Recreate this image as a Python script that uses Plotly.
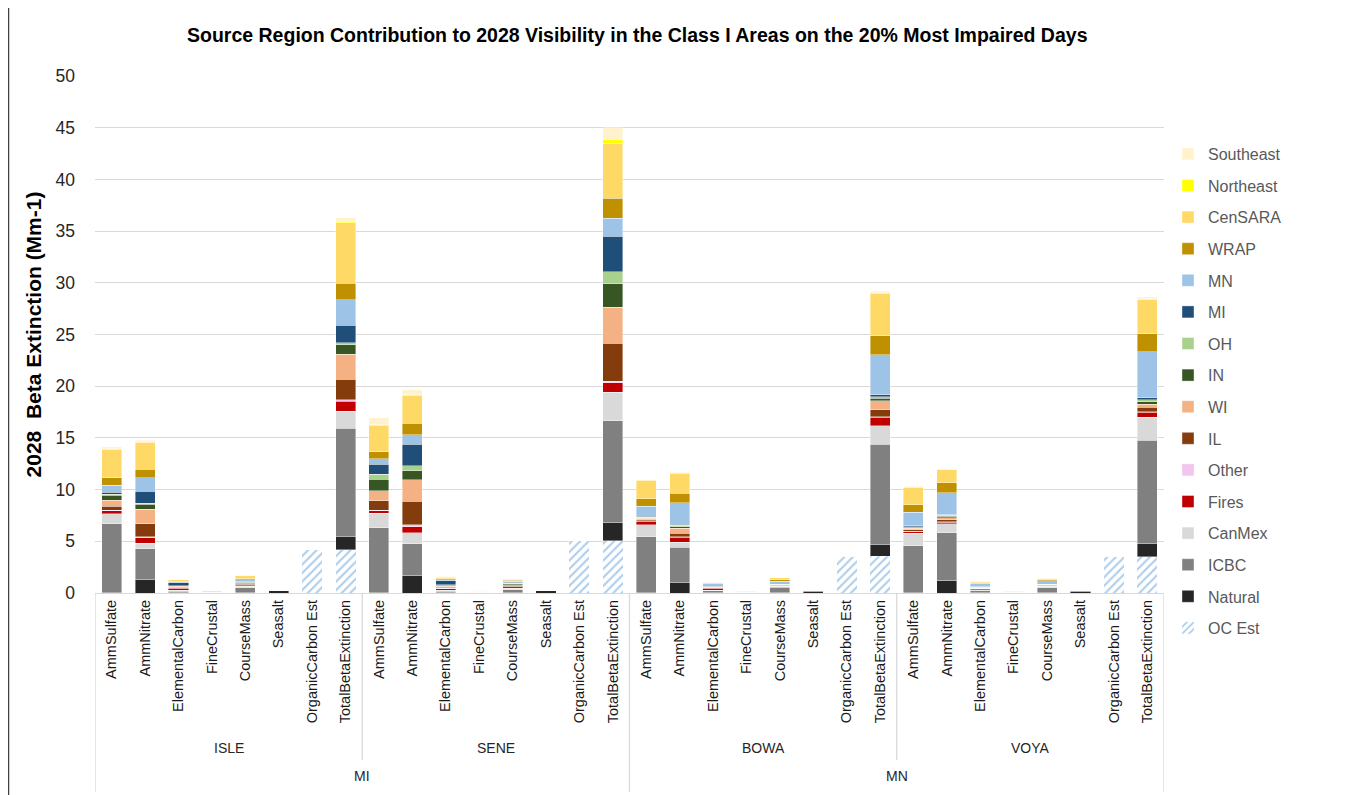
import plotly.graph_objects as go

# ---------------- data ----------------
states = ["MI", "MN"]
sites = ["ISLE", "SENE", "BOWA", "VOYA"]
species = ["AmmSulfate", "AmmNitrate", "ElementalCarbon", "FineCrustal",
           "CourseMass", "Seasalt", "OrganicCarbon Est", "TotalBetaExtinction"]

# each list: ISLE(8) + SENE(8) + BOWA(8) + VOYA(8), species order as above
oc_est = [0, 0, 0, 0, 0, 0, 4.16, 4.16,
          0, 0, 0, 0, 0, 0, 5.06, 5.06,
          0, 0, 0, 0, 0, 0, 3.55, 3.55,
          0, 0, 0, 0, 0, 0, 3.52, 3.52]
natural = [0.05, 1.29, 0.02, 0, 0.02, 0.20, 0, 1.32,
           0.05, 1.68, 0.02, 0, 0.02, 0.20, 0, 1.74,
           0.05, 1.03, 0.02, 0, 0.02, 0.15, 0, 1.16,
           0.05, 1.19, 0.02, 0, 0.02, 0.17, 0, 1.23]
icbc = [6.63, 2.97, 0.15, 0.05, 0.50, 0.05, 0, 10.45,
        6.24, 3.06, 0.15, 0.03, 0.30, 0.05, 0, 9.87,
        5.40, 3.39, 0.20, 0.04, 0.55, 0.05, 0, 9.68,
        4.53, 4.65, 0.20, 0.04, 0.50, 0.05, 0, 10.00]
canmex = [0.97, 0.55, 0.08, 0.02, 0.12, 0, 0, 1.65,
          1.42, 1.10, 0.10, 0.02, 0.10, 0, 0, 2.74,
          1.13, 0.48, 0.05, 0.02, 0.10, 0, 0, 1.77,
          1.19, 0.84, 0.08, 0.02, 0.12, 0, 0, 2.26]
fires = [0.30, 0.52, 0.22, 0, 0.05, 0, 0, 0.97,
         0.26, 0.58, 0.15, 0, 0.03, 0, 0, 0.90,
         0.35, 0.48, 0.20, 0, 0.03, 0, 0, 0.84,
         0.19, 0.16, 0.12, 0, 0.05, 0, 0, 0.45]
other = [0.05, 0.13, 0.03, 0, 0.01, 0, 0, 0.16,
         0.05, 0.19, 0.05, 0, 0.01, 0, 0, 0.19,
         0.05, 0.06, 0.02, 0, 0.01, 0, 0, 0.06,
         0.03, 0.05, 0.02, 0, 0.01, 0, 0, 0.05]
il = [0.40, 1.23, 0.08, 0, 0.15, 0, 0, 1.97,
      0.90, 2.26, 0.10, 0.03, 0.20, 0, 0, 3.65,
      0.12, 0.35, 0.04, 0, 0.05, 0, 0, 0.65,
      0.15, 0.20, 0.04, 0, 0.05, 0, 0, 0.45]
wi = [0.58, 1.39, 0.06, 0, 0.15, 0, 0, 2.39,
      0.97, 2.06, 0.10, 0.10, 0.15, 0, 0, 3.48,
      0.12, 0.48, 0.05, 0, 0.05, 0, 0, 0.90,
      0.12, 0.20, 0.04, 0, 0.05, 0, 0, 0.30]
ind = [0.45, 0.48, 0.06, 0, 0.06, 0, 0, 0.94,
       1.13, 0.90, 0.10, 0, 0.10, 0, 0, 2.29,
       0.08, 0.15, 0.02, 0, 0.02, 0, 0, 0.23,
       0.10, 0.12, 0.02, 0, 0.03, 0, 0, 0.26]
oh = [0.12, 0.13, 0.02, 0, 0.02, 0, 0, 0.19,
      0.48, 0.48, 0.05, 0, 0.05, 0, 0, 1.16,
      0.05, 0.15, 0.02, 0, 0.02, 0, 0, 0.16,
      0.06, 0.10, 0.02, 0, 0.02, 0, 0, 0.19]
mi = [0.20, 1.16, 0.25, 0, 0.08, 0, 0, 1.71,
      0.97, 2.06, 0.35, 0, 0.10, 0, 0, 3.42,
      0.06, 0.10, 0.05, 0, 0.02, 0, 0, 0.16,
      0.10, 0.06, 0.04, 0, 0.02, 0, 0, 0.16]
mn = [0.68, 1.29, 0.12, 0.05, 0.12, 0, 0, 2.45,
      0.52, 0.94, 0.10, 0, 0.08, 0, 0, 1.74,
      0.97, 2.06, 0.25, 0.08, 0.25, 0, 0, 3.90,
      1.29, 2.13, 0.35, 0.09, 0.30, 0, 0, 4.45]
wrap = [0.71, 0.84, 0.06, 0.03, 0.12, 0, 0, 1.61,
        0.65, 1.10, 0.10, 0, 0.10, 0, 0, 1.94,
        0.74, 0.94, 0.05, 0, 0.15, 0, 0, 1.84,
        0.74, 0.94, 0.05, 0, 0.12, 0, 0, 1.77]
censara = [2.74, 2.58, 0.12, 0.05, 0.25, 0, 0, 5.84,
           2.52, 2.65, 0.15, 0.07, 0.10, 0, 0, 5.30,
           1.77, 1.87, 0.08, 0.05, 0.20, 0, 0, 4.03,
           1.68, 1.29, 0.10, 0.05, 0.15, 0, 0, 3.32]
northeast = [0.05, 0.10, 0.01, 0, 0.02, 0, 0, 0.13,
             0.13, 0.13, 0.05, 0.02, 0.02, 0, 0, 0.40,
             0.05, 0.10, 0.01, 0.02, 0.01, 0, 0, 0.13,
             0.03, 0.05, 0.01, 0.01, 0.01, 0, 0, 0.06]
southeast = [0.20, 0.10, 0.02, 0, 0.04, 0, 0, 0.35,
             0.68, 0.45, 0.04, 0, 0.03, 0, 0, 1.10,
             0.02, 0.03, 0.01, 0, 0.01, 0, 0, 0.13,
             0.07, 0.02, 0.01, 0, 0.01, 0, 0, 0.16]

series_names = ["Natural", "ICBC", "CanMex", "Fires", "Other", "IL", "WI", "IN",
                "OH", "MI", "MN", "WRAP", "CenSARA", "Northeast", "Southeast"]
series_values = [natural, icbc, canmex, fires, other, il, wi, ind,
                 oh, mi, mn, wrap, censara, northeast, southeast]
series_colors = ["#262626", "#808080", "#D9D9D9", "#C00000", "#F2C4EE", "#843C0C",
                 "#F4B183", "#375623", "#A9D18E", "#1F4E79", "#9DC3E6", "#BF9000",
                 "#FFD966", "#FFFF00", "#FFF2CC"]

# ---------------- figure ----------------
n_species = len(species)
xs = list(range(len(sites) * n_species))
ticktext = species * len(sites)

FONT = "Liberation Sans Narrow, Liberation Sans, Arial, sans-serif"

# page has an 8px body margin: figure is drawn at (8, 8)
W, H = 1346, 787
ML, MT, MR, MB = 87, 68, 190, 202
PW = W - ML - MR
PH = H - MT - MB


def px_to_paper_x(page_x):
    return (page_x - 8 - ML) / PW


def px_to_paper_y(page_y):
    return (8 + MT + PH - page_y) / PH


fig = go.Figure()
fig.add_trace(go.Bar(
    x=xs, y=oc_est, name="OC Est", width=0.6, legendgroup="OC Est",
    legendrank=1000,
    marker=dict(color="white", line=dict(width=0),
                pattern=dict(shape="/", fgcolor="#5B9BD5", bgcolor="white",
                             size=6, solidity=0.35)),
    hoverinfo="skip"))
for i, (name, vals, col) in enumerate(zip(series_names, series_values, series_colors)):
    fig.add_trace(go.Bar(
        x=xs, y=vals, name=name, width=0.6, legendgroup=name,
        legendrank=999 - i,
        marker=dict(color=col, line=dict(color="white", width=0.4)),
        hoverinfo="skip"))

shapes = []
line_col = "#D9D9D9"
for k in range(1, len(sites)):
    xb = k * n_species - 0.5
    y_end = px_to_paper_y(792) if k == 2 else px_to_paper_y(760)
    shapes.append(dict(type="line", xref="x", yref="paper", x0=xb, x1=xb,
                       y0=0, y1=y_end, line=dict(color=line_col, width=1.3)))
for xb in [-0.5, len(xs) - 0.5]:
    shapes.append(dict(type="line", xref="x", yref="paper", x0=xb, x1=xb,
                       y0=0, y1=px_to_paper_y(792), line=dict(color=line_col, width=1.3)))
for page_x in [8.5, 1347.5]:
    xp = px_to_paper_x(page_x)
    shapes.append(dict(type="line", xref="paper", yref="paper",
                       x0=xp, x1=xp, y0=1.2, y1=-0.42,
                       line=dict(color="#404040", width=1.5)))

annotations = []
for i, s in enumerate(sites):
    annotations.append(dict(x=i * n_species + (n_species - 1) / 2,
                            y=px_to_paper_y(748), yanchor="middle",
                            xref="x", yref="paper", text=s, showarrow=False,
                            font=dict(family=FONT, size=14, color="#262626")))
for i, s in enumerate(states):
    annotations.append(dict(x=i * 2 * n_species + (2 * n_species - 1) / 2,
                            y=px_to_paper_y(776), yanchor="middle",
                            xref="x", yref="paper", text=s, showarrow=False,
                            font=dict(family=FONT, size=14, color="#262626")))

fig.update_layout(
    width=W, height=H,
    barmode="stack",
    paper_bgcolor="white", plot_bgcolor="white",
    margin=dict(l=ML, r=MR, t=MT, b=MB, autoexpand=False),
    title=dict(text="<b>Source Region Contribution to 2028 Visibility in the Class I Areas on the 20% Most Impaired Days</b>",
               x=0.4675, xanchor="center", y=1 - 27 / H, yanchor="middle",
               font=dict(family=FONT, size=19.5, color="#000000")),
    font=dict(family=FONT, color="#262626"),
    xaxis=dict(range=[-0.5, len(xs) - 0.5], tickmode="array", tickvals=xs,
               ticktext=ticktext, tickangle=-90, showgrid=False,
               showline=True, linecolor=line_col, linewidth=1.3,
               ticks="", automargin=False,
               tickfont=dict(family=FONT, size=14.5, color="#1a1a1a"),
               zeroline=False),
    yaxis=dict(range=[0, 50], dtick=5, showgrid=True, gridcolor=line_col,
               gridwidth=1.3, zeroline=False, showline=False, ticks="",
               ticklabelstandoff=19, automargin=False,
               tickfont=dict(family=FONT, size=17.5, color="#262626"),
               title=dict(text="<b>2028  Beta Extinction (Mm-1)</b>",
                          font=dict(family=FONT, size=21, color="#000000"),
                          standoff=8)),
    legend=dict(x=px_to_paper_x(1168), xanchor="left",
                y=px_to_paper_y(137), yanchor="top",
                traceorder="grouped", tracegroupgap=7.8, maxheight=620,
                font=dict(family=FONT, size=16, color="#595959"),
                itemwidth=30, bgcolor="rgba(0,0,0,0)"),
    shapes=shapes,
    annotations=annotations,
)

fig.write_html("out.html")
